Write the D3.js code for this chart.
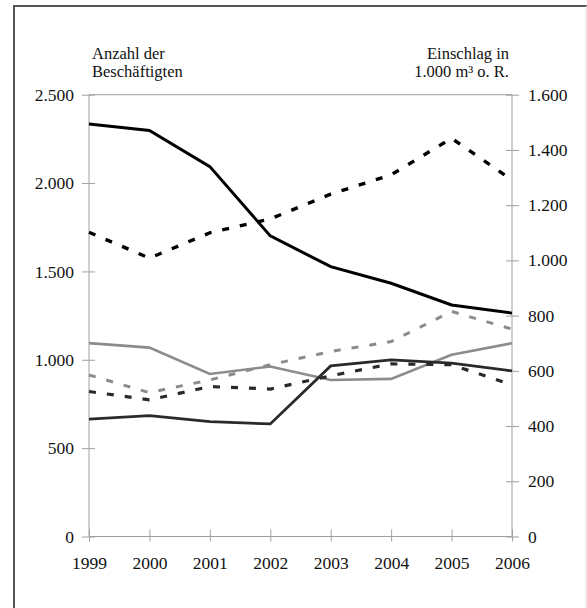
<!DOCTYPE html>
<html><head><meta charset="utf-8">
<script src="https://cdn.jsdelivr.net/npm/d3@7"></script>
<style>body{margin:0;background:#fff}svg{display:block}text{font-family:"Liberation Serif","Times New Roman",serif;fill:#111}</style>
</head><body><svg id="c" width="587" height="608"></svg>
<script>
const years = [1999,2000,2001,2002,2003,2004,2005,2006];
const leftTicks = [0,500,1000,1500,2000,2500];
const rightTicks = [0,200,400,600,800,1000,1200,1400,1600];
// employees (left axis)
const empBlack = [2334,2297,2093,1701,1527,1433,1310,1264];
const empGray  = [1094,1069,920,962,886,892,1028,1094];
const empDark  = [664,684,650,637,965,999,981,937];
// harvest (right axis, 1.000 m³)
const harvBlack = [1102,1008,1100,1150,1240,1310,1442,1291];
const harvGray  = [585,521,567,622,670,706,815,751];
const harvDark  = [525,495,543,534,582,625,622,549];

const svg = d3.select("#c");
const L=89, R=512, T=94.7, B=536.5;
const x = d3.scaleLinear().domain([1999,2006]).range([L,R]);
const yL = d3.scaleLinear().domain([0,2500]).range([B,T]);
const yR = d3.scaleLinear().domain([0,1600]).range([B,T]);
const fmt = d => d3.format(",")(d).replace(/,/g,".");

// outer frame
svg.append("line").attr("x1",14).attr("x2",14).attr("y1",6).attr("y2",608).attr("stroke","#555").attr("stroke-width",2);
svg.append("line").attr("x1",13).attr("x2",587).attr("y1",6).attr("y2",6).attr("stroke","#555").attr("stroke-width",2);
svg.append("line").attr("x1",586).attr("x2",586).attr("y1",6).attr("y2",608).attr("stroke","#ddd").attr("stroke-width",1);

const ax = "#a0a0a0";
const g = svg.append("g");
// plot frame lines
g.append("line").attr("x1",L).attr("x2",R).attr("y1",T).attr("y2",T).attr("stroke",ax);
g.append("line").attr("x1",L).attr("x2",R).attr("y1",B).attr("y2",B).attr("stroke",ax);
g.append("line").attr("x1",L).attr("x2",L).attr("y1",T).attr("y2",B).attr("stroke",ax);
g.append("line").attr("x1",R).attr("x2",R).attr("y1",T).attr("y2",B).attr("stroke",ax);

// left axis
const la = g.append("g").attr("transform",`translate(${L},0)`)
  .call(d3.axisLeft(yL).tickValues(leftTicks).tickFormat(fmt).tickSize(7).tickSizeOuter(0).tickPadding(8));
la.select(".domain").remove();
la.selectAll(".tick line").attr("stroke",ax).attr("x2",-7).attr("x1",6);
la.selectAll(".tick text").attr("font-size",17.5).attr("font-family","Liberation Serif").attr("fill","#111");

// right axis
const ra = g.append("g").attr("transform",`translate(${R},0)`)
  .call(d3.axisRight(yR).tickValues(rightTicks).tickFormat(fmt).tickSize(7).tickSizeOuter(0).tickPadding(9));
ra.select(".domain").remove();
ra.selectAll(".tick line").attr("stroke",ax).attr("x1",-6).attr("x2",7);
ra.selectAll(".tick text").attr("font-size",17.5).attr("font-family","Liberation Serif").attr("fill","#111");

// x axis
const xa = g.append("g").attr("transform",`translate(0,${B})`)
  .call(d3.axisBottom(x).tickValues(years).tickFormat(d3.format("d")).tickSize(5).tickSizeOuter(0).tickPadding(15));
xa.select(".domain").remove();
xa.selectAll(".tick line").attr("stroke",ax).attr("y1",-7).attr("y2",5);
xa.selectAll(".tick text").attr("font-size",17.5).attr("font-family","Liberation Serif").attr("fill","#111");

// axis titles
const t1 = svg.append("text").attr("font-size",16.5).attr("text-anchor","start");
t1.append("tspan").attr("x",92).attr("y",59).text("Anzahl der");
t1.append("tspan").attr("x",92).attr("y",76.5).text("Beschäftigten");
const t2 = svg.append("text").attr("font-size",16.5).attr("text-anchor","end");
t2.append("tspan").attr("x",509).attr("y",59).text("Einschlag in");
t2.append("tspan").attr("x",509).attr("y",76.5).text("1.000 m³ o. R.");

// lines
function draw(vals, ys, color, width, dash){
  const line = d3.line().x((d,i)=>x(years[i])).y(d=>ys(d));
  svg.append("path").datum(vals).attr("d",line).attr("fill","none")
    .attr("stroke",color).attr("stroke-width",width)
    .attr("stroke-dasharray",dash||null).attr("stroke-linejoin","miter");
}
draw(empGray, yL, "#8c8c8c", 2.6);
draw(harvGray, yR, "#8c8c8c", 3, "7,11");
draw(empDark, yL, "#2a2a2a", 2.8);
draw(harvDark, yR, "#2a2a2a", 3.2, "7,11");
draw(empBlack, yL, "#000", 3);
draw(harvBlack, yR, "#000", 3.4, "7,11");
</script></body></html>
